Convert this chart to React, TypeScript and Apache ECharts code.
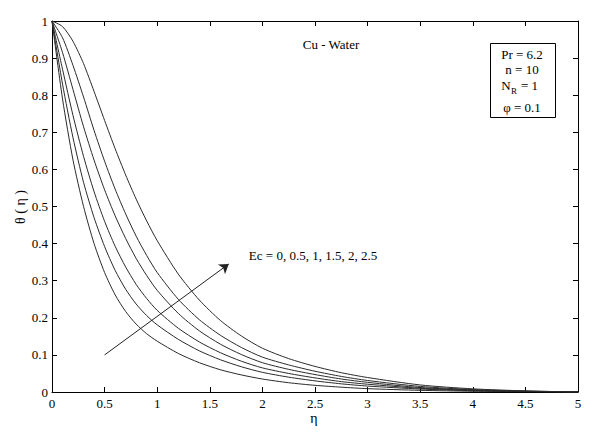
import React, { useEffect, useRef } from "react";
import * as echarts from "echarts";

const etaValues = [0, 0.1, 0.2, 0.3, 0.4, 0.5, 0.6, 0.7, 0.8, 0.9, 1.0, 1.2, 1.4, 1.6, 1.8, 2.0, 2.25, 2.5, 2.75, 3.0, 3.5, 4.0, 4.5, 5.0];

const ecLabels = ["0", "0.5", "1", "1.5", "2", "2.5"];

const thetaEc0 = [1, 0.79, 0.625, 0.5, 0.4, 0.322, 0.262, 0.217, 0.183, 0.157, 0.137, 0.104, 0.079, 0.06, 0.046, 0.035, 0.025, 0.018, 0.013, 0.009, 0.0045, 0.002, 0.001, 0];
const thetaEc05 = [1, 0.83, 0.685, 0.565, 0.47, 0.392, 0.328, 0.277, 0.237, 0.206, 0.181, 0.142, 0.111, 0.087, 0.068, 0.053, 0.04, 0.03, 0.022, 0.016, 0.008, 0.0035, 0.0012, 0];
const thetaEc1 = [1, 0.87, 0.745, 0.635, 0.54, 0.46, 0.393, 0.337, 0.29, 0.252, 0.22, 0.172, 0.135, 0.106, 0.083, 0.065, 0.05, 0.038, 0.028, 0.021, 0.01, 0.0045, 0.0015, 0];
const thetaEc15 = [1, 0.915, 0.815, 0.715, 0.625, 0.545, 0.475, 0.414, 0.36, 0.314, 0.274, 0.212, 0.165, 0.129, 0.101, 0.079, 0.061, 0.047, 0.035, 0.026, 0.012, 0.0055, 0.002, 0];
const thetaEc2 = [1, 0.955, 0.88, 0.795, 0.705, 0.622, 0.547, 0.48, 0.42, 0.368, 0.322, 0.25, 0.195, 0.153, 0.12, 0.094, 0.073, 0.056, 0.042, 0.031, 0.015, 0.0065, 0.0025, 0];
const thetaEc25 = [1, 0.985, 0.945, 0.885, 0.81, 0.732, 0.656, 0.585, 0.52, 0.461, 0.408, 0.318, 0.248, 0.193, 0.151, 0.118, 0.09, 0.069, 0.052, 0.039, 0.019, 0.0085, 0.003, 0];

const allSeries = [thetaEc0, thetaEc05, thetaEc1, thetaEc15, thetaEc2, thetaEc25];

const arrowStart = [0.5, 0.1];
const arrowEnd = [1.68, 0.345];

const xTickMin = 0;
const xTickMax = 5;
const xTickStep = 0.5;
const yTickMin = 0;
const yTickMax = 1;
const yTickStep = 0.1;

const FONT = "Liberation Serif";

export default function App() {
  const ref = useRef<HTMLDivElement>(null);

  useEffect(() => {
    if (!ref.current) return;
    const chart = echarts.init(ref.current, null, { renderer: "svg" });

    const axisCommon = {
      type: "value" as const,
      axisLine: { show: true, onZero: false, lineStyle: { color: "#000", width: 1 } },
      axisTick: { show: true, inside: true, length: 5, lineStyle: { color: "#000" } },
      splitLine: { show: false },
    };

    const series: any[] = allSeries.map((vals, i) => ({
      type: "line",
      name: "Ec = " + ecLabels[i],
      data: etaValues.map((e, j) => [e, vals[j]]),
      smooth: 0.25,
      showSymbol: false,
      symbol: "none",
      lineStyle: { color: "#2a2a2a", width: 1 },
      z: 2,
    }));

    series.push({
      type: "line",
      data: [],
      markLine: {
        silent: true,
        symbol: ["none", "arrow"],
        symbolSize: 9,
        label: { show: false },
        lineStyle: { color: "#222", width: 1, type: "solid" },
        itemStyle: { color: "#222" },
        data: [[{ coord: arrowStart }, { coord: arrowEnd }]],
      },
    });

    const t = (x: number, y: number, text: string, size: number, align: string = "center") => ({
      type: "text",
      x,
      y,
      style: { text, fill: "#000", font: `${size}px '${FONT}'`, textAlign: align, textVerticalAlign: "middle" },
    });

    chart.setOption({
      animation: false,
      backgroundColor: "#fff",
      grid: { left: 52, right: 22, top: 21, bottom: 43, containLabel: false },
      xAxis: [
        {
          ...axisCommon,
          position: "bottom",
          min: xTickMin,
          max: xTickMax,
          interval: xTickStep,
          axisLabel: { color: "#000", fontFamily: FONT, fontSize: 13, margin: 5 },
        },
        {
          ...axisCommon,
          position: "top",
          min: xTickMin,
          max: xTickMax,
          interval: xTickStep,
          axisLabel: { show: false },
        },
      ],
      yAxis: [
        {
          ...axisCommon,
          position: "left",
          min: yTickMin,
          max: yTickMax,
          interval: yTickStep,
          axisLabel: { color: "#000", fontFamily: FONT, fontSize: 13, margin: 4 },
        },
        {
          ...axisCommon,
          position: "right",
          min: yTickMin,
          max: yTickMax,
          interval: yTickStep,
          axisLabel: { show: false },
        },
      ],
      series,
      graphic: [
        {
          type: "text",
          x: 20,
          y: 207,
          rotation: Math.PI / 2,
          style: { text: "θ ( η )", fill: "#000", font: `14px '${FONT}'`, textAlign: "center", textVerticalAlign: "middle" },
        },
        t(314, 418, "η", 14),
        t(331, 44, "Cu - Water", 13),
        t(313, 255, "Ec = 0, 0.5, 1, 1.5, 2, 2.5", 13),
        {
          type: "rect",
          shape: { x: 490.5, y: 43.5, width: 65, height: 74 },
          style: { fill: "#fff", stroke: "#000", lineWidth: 1 },
        },
        t(522, 54, "Pr = 6.2", 13),
        t(522, 69.5, "n = 10", 13),
        t(506, 85, "N", 13),
        t(514, 91, "R", 9),
        t(521, 85, "= 1", 13, "left"),
        t(522, 107, "φ = 0.1", 13),
      ],
    });

    return () => chart.dispose();
  }, []);

  return <div ref={ref} style={{ width: 600, height: 435, position: "absolute", left: 0, top: 0 }} />;
}
